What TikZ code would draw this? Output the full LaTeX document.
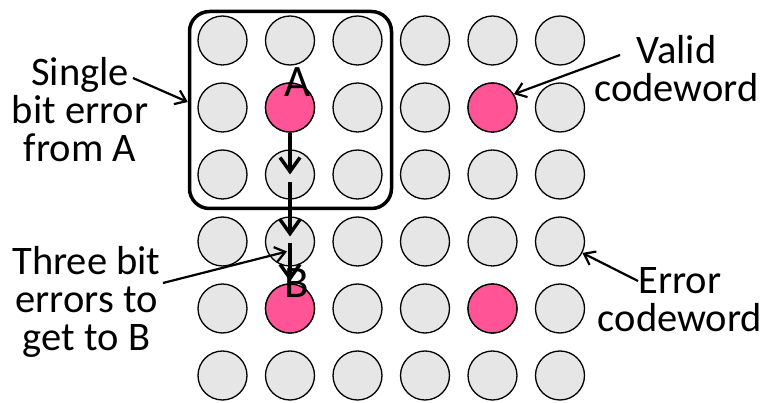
\documentclass[tikz,border=0pt]{standalone}
\usepackage{fontspec}
\setmainfont{Carlito}
\usetikzlibrary{arrows.meta, positioning}
\definecolor{wordgray}{RGB}{230,230,230}
\definecolor{validpink}{RGB}{255,85,150}

\tikzset{
  word/.style={circle, draw=black, line width=1.3pt, fill=wordgray, minimum size=49pt, inner sep=0pt},
  validword/.style={word, fill=validpink},
  ballbox/.style={draw=black, line width=3.5pt, rounded corners=20pt, minimum width=202pt, minimum height=197pt, inner sep=0pt},
  biglabel/.style={font=\fontsize{45}{45}\selectfont, anchor=base, inner sep=0pt},
  notelabel/.style={font=\fontsize{40.5}{38.3}\selectfont, align=center, anchor=base, inner sep=0pt},
  fliparrow/.style={line width=3.5pt, -{Straight Barb[length=14pt,width=20pt]}},
  callout/.style={line width=2.2pt, -{Straight Barb[length=10pt,width=15pt]}},
}

\begin{document}
\begin{tikzpicture}[x=1pt, y=-1pt]
  \useasboundingbox (0,0) rectangle (772,403);

  % grid of codewords, 6 x 6
  \def\xo{222.5} % first column
  \def\yo{40.5}  % first row
  \def\dx{67.5}
  \def\dy{67}

  \foreach \r in {1,...,6}
    \foreach \c in {1,...,6}
      \node[word] (c-\r-\c) at ({\xo+(\c-1)*\dx}, {\yo+(\r-1)*\dy}) {};

  % valid codewords on top
  \foreach \p in {2-2,2-5,5-2,5-5}
    \node[validword] (v-\p) at (c-\p) {};

  % single bit error neighbourhood of A
  \node[ballbox] (box) at (290.5,110) {};

  % A and B
  \node[biglabel] (lblA) at (298,97) {A};
  \node[biglabel] (lblB) at (297,298) {B};

  % three bit flips from A to B
  \draw[fliparrow] (v-2-2.south) -- (c-3-2.center);
  \draw[fliparrow] ([yshift=-8pt]c-3-2.center) -- ([yshift=5pt]c-4-2.center);
  \draw[fliparrow] ([yshift=-2pt]c-4-2.center) -- ([yshift=2pt]v-5-2.north);

  % labels (base = baseline of last line)
  \node[notelabel] (single) at (80,161.7) {Single\\bit error\\from A};
  \node[notelabel] (three) at (86.5,351) {Three bit\\errors to\\get to B};
  \node[notelabel] (valid) at (676.5,101.7) {Valid\\codeword};
  \node[notelabel] (error) at (680,331.7) {Error\\codeword};

  % callout arrows
  \coordinate (single-tail) at (133,78);
  \coordinate (three-tail) at (163,283);
  \coordinate (valid-tail) at (620,55);
  \coordinate (error-tail) at (638,281);

  \draw[callout] (single-tail) -- ([yshift=8pt]box.west);
  \draw[callout] (three-tail) -- ([xshift=-3pt,yshift=-10pt]c-4-2.center);
  \draw[callout] (valid-tail) -- (v-2-5.32);
  \draw[callout] (error-tail) -- (c-4-6.-27);
\end{tikzpicture}
\end{document}
